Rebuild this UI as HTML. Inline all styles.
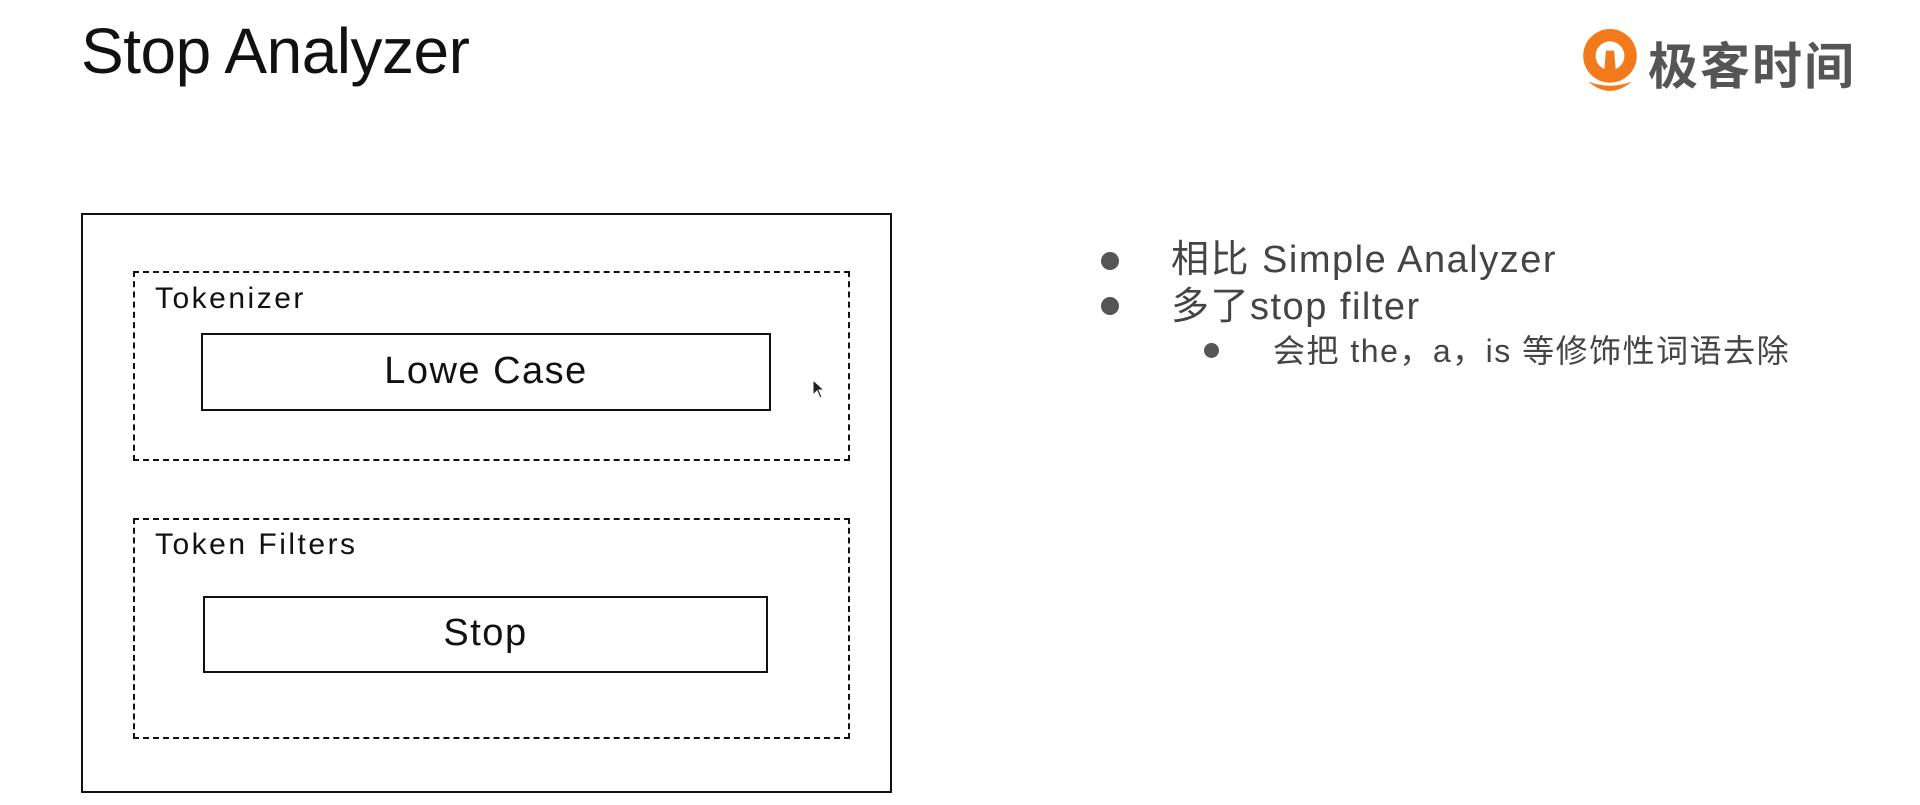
<!DOCTYPE html>
<html><head><meta charset="utf-8"><style>
html,body{margin:0;padding:0;background:#fff;}
body{width:1920px;height:805px;position:relative;overflow:hidden;font-family:"Liberation Sans","Noto Sans CJK SC",sans-serif;}
.a{position:absolute;}
.t{white-space:nowrap;line-height:1;}
.box{position:absolute;box-sizing:border-box;}
.dot{position:absolute;border-radius:50%;background:#555;}
</style></head><body>
<div class="a t" style="left:81px;top:19px;font-size:64px;color:#111;letter-spacing:-0.5px;">Stop Analyzer</div>

<!-- logo -->
<svg class="a" style="left:1578px;top:28px" width="64" height="68" viewBox="0 0 62 66">
  <circle cx="31" cy="27" r="26" fill="#f27a1a"/>
  <circle cx="31" cy="27" r="14" fill="#fff"/>
  <path d="M27 22 L35 22 L37 47 L25 47 Z" fill="#f27a1a"/>
  <path d="M10 52 Q31 70 52 52 Q31 60 10 52 Z" fill="#f27a1a"/>
</svg>
<div class="a t" style="left:1648px;top:38px;font-size:50px;font-weight:bold;color:#555;font-family:'Noto Sans CJK SC',sans-serif;letter-spacing:2px;">极客时间</div>

<!-- diagram -->
<div class="box" style="left:81px;top:213px;width:811px;height:580px;border:2px solid #111;"></div>
<div class="box" style="left:133px;top:271px;width:717px;height:190px;border:2px dashed #111;"></div>
<div class="a t" style="left:155px;top:284px;font-size:30px;color:#111;letter-spacing:2.5px;">Tokenizer</div>
<div class="box" style="left:201px;top:333px;width:570px;height:78px;border:2px solid #111;"></div>
<div class="a t" style="left:201px;top:352px;width:570px;text-align:center;font-size:38px;color:#111;letter-spacing:1.5px;">Lowe Case</div>

<div class="box" style="left:133px;top:518px;width:717px;height:221px;border:2px dashed #111;"></div>
<div class="a t" style="left:155px;top:530px;font-size:30px;color:#111;letter-spacing:2.5px;">Token Filters</div>
<div class="box" style="left:203px;top:596px;width:565px;height:77px;border:2px solid #111;"></div>
<div class="a t" style="left:203px;top:614px;width:565px;text-align:center;font-size:38px;color:#111;letter-spacing:1.5px;">Stop</div>

<!-- cursor -->
<svg class="a" style="left:812px;top:379px" width="14" height="22" viewBox="0 0 14 22"><path d="M1 1 L1 16 L5 12 L8 19 L10 18 L7 11 L12 11 Z" fill="#222" stroke="#fff" stroke-width="1"/></svg>

<!-- bullets -->
<div class="dot" style="left:1101px;top:252px;width:18px;height:18px;"></div>
<div class="a t" style="left:1171px;top:241px;font-size:38px;color:#444;letter-spacing:1.5px;">相比 Simple Analyzer</div>
<div class="dot" style="left:1101px;top:297px;width:18px;height:18px;"></div>
<div class="a t" style="left:1171px;top:288px;font-size:38px;color:#444;letter-spacing:1.5px;">多了stop filter</div>
<div class="dot" style="left:1204px;top:343px;width:15px;height:15px;"></div>
<div class="a t" style="left:1273px;top:335px;font-size:32px;color:#444;letter-spacing:1.5px;">会把 the，a，is 等修饰性词语去除</div>
</body></html>
